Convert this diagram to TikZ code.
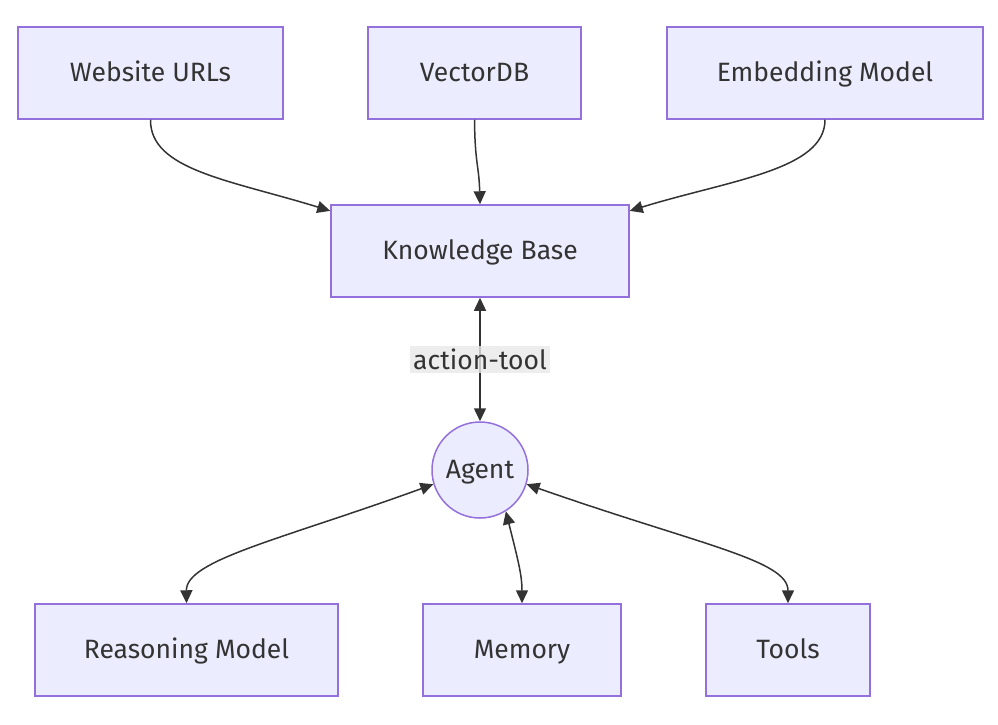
\documentclass[tikz,border=0pt]{standalone}
\usepackage{fontspec}
\setmainfont{Fira Sans}
\usetikzlibrary{positioning,arrows.meta}

\definecolor{boxfill}{HTML}{ECECFF}
\definecolor{boxline}{HTML}{9370DB}
\definecolor{ink}{HTML}{333333}
\definecolor{labelbg}{HTML}{E8E8E8}

\begin{document}
\begin{tikzpicture}[
    ->,
    >={Stealth[inset=0pt,length=13pt,width=12pt]},
    line width=1.5pt,
    x=1pt, y=-1pt,
    font=\fontsize{26.5}{30}\selectfont
]

\tikzstyle{block}=[
    rectangle,
    draw=boxline,
    fill=boxfill,
    text=ink,
    minimum height=92pt,
    text height=20pt,
    text depth=4pt,
    align=center
]
\tikzstyle{agentnode}=[
    circle,
    draw=boxline,
    fill=boxfill,
    text=ink,
    minimum size=96pt,
    text height=20pt,
    text depth=4pt,
    inner sep=0pt
]
\tikzstyle{link}=[draw=ink]
\tikzstyle{edgelabel}=[fill=labelbg, fill opacity=0.8, text opacity=1, text=ink, inner sep=3pt]

\useasboundingbox (0,0) rectangle (998,724);

\node[block, minimum width=265pt] (urls) at (150.5,73) {Website URLs};
\node[block, minimum width=213pt] (vdb) at (474.5,73) {VectorDB};
\node[block, minimum width=316pt] (embed) at (825,73) {Embedding Model};

\node[block, minimum width=298pt] (kb) at (480,251) {Knowledge Base};
\node[agentnode] (agent) at (480,470) {Agent};

\node[block, minimum width=303pt] (reason) at (186.5,650) {Reasoning Model};
\node[block, minimum width=198pt] (memory) at (522,650) {Memory};
\node[block, minimum width=164pt] (tools) at (788,650) {Tools};


\draw[link] (urls.south) .. controls (150,170) and (230,180) .. (kb.165);
\draw[link] (vdb.south) .. controls (475,165) and (479,165) .. (kb.north);
\draw[link] (embed.south) .. controls (825,170) and (730,180) .. (kb.15);

\draw[link, <->] (kb.south) -- node[edgelabel] {action-tool} (agent.north);

\draw[link, <->] (agent.197) .. controls (280,540) and (186,560) .. (reason.north);
\draw[link, <->] (agent.-58) .. controls (518,560) and (522,575) .. (memory.north);
\draw[link, <->] (agent.-17) .. controls (700,545) and (788,560) .. (tools.north);

\end{tikzpicture}
\end{document}
